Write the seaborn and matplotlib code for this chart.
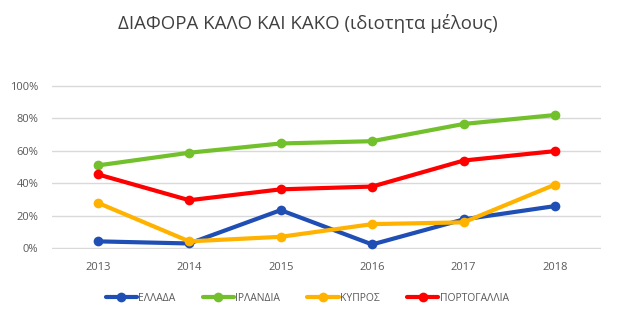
import matplotlib
matplotlib.use("Agg")
import matplotlib.pyplot as plt
import seaborn as sns
import pandas as pd
from matplotlib.ticker import PercentFormatter

years = ["2013", "2014", "2015", "2016", "2017", "2018"]
series_names = ["ΕΛΛΑΔΑ", "ΙΡΛΑΝΔΙΑ", "ΚΥΠΡΟΣ", "ΠΟΡΤΟΓΑΛΛΙΑ"]
ellada = [0.043, 0.030, 0.235, 0.024, 0.178, 0.260]
irlandia = [0.510, 0.588, 0.645, 0.659, 0.765, 0.820]
kypros = [0.280, 0.043, 0.071, 0.149, 0.160, 0.392]
portogalia = [0.455, 0.296, 0.363, 0.380, 0.540, 0.598]
title = "ΔΙΑΦΟΡΑ ΚΑΛΟ ΚΑΙ ΚΑΚΟ (ιδιοτητα μέλους)"

colors = ["#1f4eb4", "#72c02c", "#ffb300", "#ff0000"]

rows = []
for name, vals in zip(series_names, [ellada, irlandia, kypros, portogalia]):
    for y, v in zip(years, vals):
        rows.append({"year": y, "value": v, "country": name})
df = pd.DataFrame(rows)

sns.set_theme(style="white")
plt.rcParams["font.family"] = ["Open Sans", "DejaVu Sans"]

fig = plt.figure(figsize=(6.2, 3.22), dpi=100)
ax = fig.add_axes([0.084, 0.2267, 0.885, 0.509])

sns.lineplot(data=df, x="year", y="value", hue="country", hue_order=series_names,
             palette=colors, marker="o", markersize=7, markeredgewidth=0,
             linewidth=3, ax=ax, sort=False, clip_on=False)

ax.set_xlim(-0.5, 5.5)
ax.set_ylim(-0.004, 1.004)
ax.set_yticks([0, 0.2, 0.4, 0.6, 0.8, 1.0])
ax.yaxis.set_major_formatter(PercentFormatter(1.0, decimals=0))
ax.grid(axis="y", color="#d9d9d9", linewidth=1)
ax.set_axisbelow(True)
for s in ax.spines.values():
    s.set_visible(False)
ax.tick_params(axis="both", length=0, labelsize=8, colors="#595959")
ax.tick_params(axis="x", pad=9)
ax.tick_params(axis="y", pad=10)
ax.set_xlabel("")
ax.set_ylabel("")

fig.suptitle(title, x=0.497, y=0.955, fontsize=13.4, color="#404040")

handles, labels = ax.get_legend_handles_labels()
leg = ax.legend(handles, labels, loc="center", bbox_to_anchor=(0.465, -0.30),
                ncol=4, frameon=False, fontsize=7.5, handlelength=3,
                columnspacing=2.6, handletextpad=0.15)
for t in leg.get_texts():
    t.set_color("#595959")

fig.savefig("out.png", dpi=100, facecolor="white")
